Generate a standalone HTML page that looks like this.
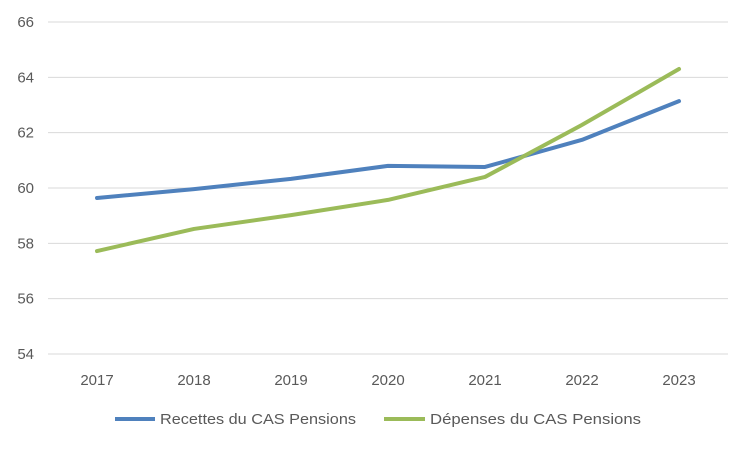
<!DOCTYPE html>
<html><head><meta charset="utf-8"><style>
body{margin:0;background:#fff;font-family:"Liberation Sans",sans-serif;}
svg text{font-family:"Liberation Sans",sans-serif;fill:#595959;}
</style></head><body>
<svg id="chart" width="750" height="450" xmlns="http://www.w3.org/2000/svg">
<g id="grid"></g>
<g id="yt"></g>
<g id="xt"></g>
<g id="series"></g>
<g>
<g>
<line x1="115" y1="419" x2="155" y2="419" stroke="#4f81bd" stroke-width="4"/>
<text x="160" y="424" font-size="15" textLength="196" lengthAdjust="spacingAndGlyphs">Recettes du CAS Pensions</text></g>
<g>
<line x1="384" y1="419" x2="425" y2="419" stroke="#9bbb59" stroke-width="4"/>
<text x="430" y="424" font-size="15" textLength="211" lengthAdjust="spacingAndGlyphs">Dépenses du CAS Pensions</text></g>
</g>
</svg>
<script>
const categories=["2017","2018","2019","2020","2021","2022","2023"];
const recettes=[59.64,59.96,60.33,60.8,60.76,61.74,63.14];
const depenses=[57.72,58.52,59.02,59.57,60.4,62.28,64.3];
const yTicks=[54,56,58,60,62,64,66];
const NS="http://www.w3.org/2000/svg";
const yMin=54,yMax=66,yTop=22,yBot=354,x0=97,dx=97;
const ys=v=>yBot-(v-yMin)/(yMax-yMin)*(yBot-yTop);
const xs=i=>x0+i*dx;
function mk(t,a,p){const e=document.createElementNS(NS,t);for(const k in a)e.setAttribute(k,a[k]);p.appendChild(e);return e;}
const grid=document.getElementById('grid'),yt=document.getElementById('yt'),xt=document.getElementById('xt'),ser=document.getElementById('series');
yTicks.forEach(v=>{
 const l=mk('line',{x1:48,x2:728,y1:ys(v),y2:ys(v),stroke:'#d9d9d9','stroke-width':1},grid);
 
 
 const t=mk('text',{x:34,y:ys(v)+5,'font-size':15,'text-anchor':'end'},yt);t.textContent=v;
 
 
});
categories.forEach((c,i)=>{
 const t=mk('text',{x:xs(i),y:385,'font-size':15,'text-anchor':'middle'},xt);t.textContent=c;
 
 
});
[[recettes,'#4f81bd','recettes-line'],[depenses,'#9bbb59','depenses-line']].forEach(([d,c,n])=>{
 const p=mk('polyline',{points:d.map((v,i)=>xs(i)+','+ys(v)).join(' '),fill:'none',stroke:c,'stroke-width':4,'stroke-linejoin':'round','stroke-linecap':'round'},ser);
 
 
});
</script>
</body></html>
